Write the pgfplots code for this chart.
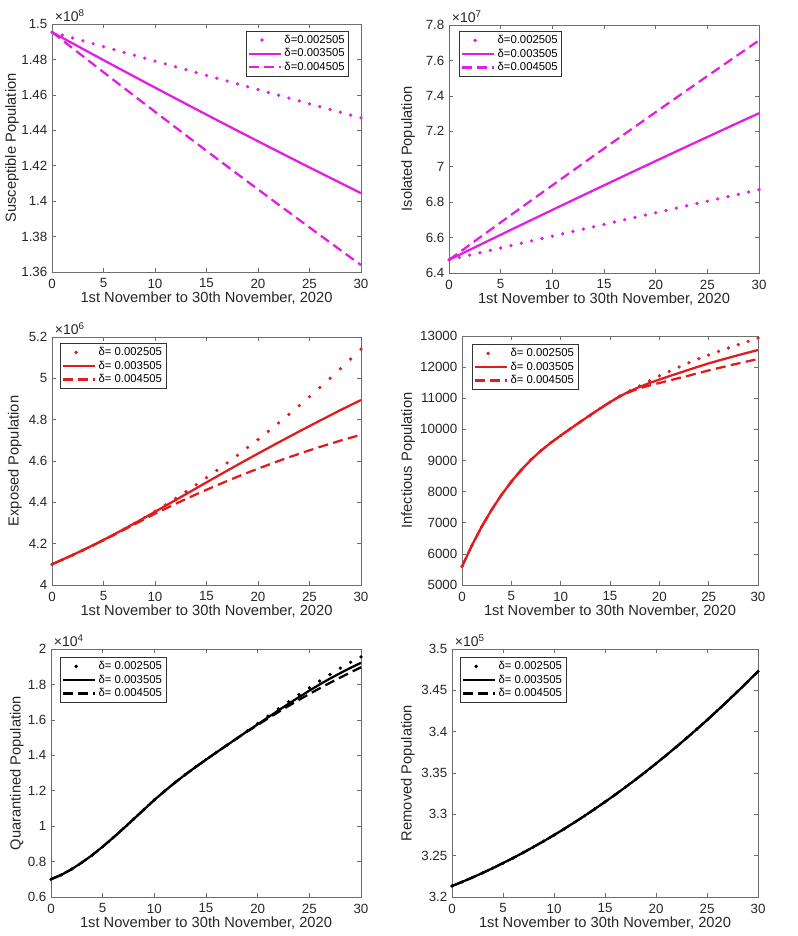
\documentclass[border=0pt]{standalone}
\usepackage{fontspec}
\setmainfont{Liberation Sans}
\usepackage{pgfplots}
\pgfplotsset{compat=1.18}
\definecolor{mag}{RGB}{226,30,226}
\definecolor{myred}{RGB}{224,28,30}
\definecolor{ax}{RGB}{110,110,110}
\pgfplotsset{
  base/.style={
    scale only axis, anchor=south west, clip=false,
    xmin=0, xmax=30, xtick={0,5,...,30},
    axis line style={ax, line width=0.5pt},
    every tick/.style={ax, line width=0.5pt},
    tick align=inside, major tick length=3pt,
    tick label style={font=\fontsize{10}{12}\selectfont, text=black!85},
    xticklabel style={yshift=-1.5pt},
    label style={font=\fontsize{11}{13}\selectfont, text=black!85},
    xlabel style={yshift=4pt},
    /pgf/number format/assume math mode=true,
    scaled ticks=false,
    /pgf/number format/1000 sep={},
    xlabel={1st November to 30th November, 2020},
    legend cell align=left,
    legend style={draw=black!80, line width=0.5pt, fill=white,
      font=\fontsize{8.5}{10}\selectfont, inner sep=1pt, row sep=-1.5pt},
    legend image code/.code={\draw[#1] (0pt,0pt) -- (24pt,0pt);},
  },
  yl/.style={ylabel style={at={(axis description cs:#1,0.5)}, anchor=center}},
  dotp/.style={only marks, mark=*, mark size=1.05pt, #1,
    legend image code/.code={\fill[##1] (10pt,0pt) circle (1.05pt);}},
  solp/.style={#1, line width=1.7pt},
  dasp/.style={#1, line width=1.7pt, dash pattern=on 7.5pt off 4pt},
}
\newcommand{\scl}[1]{\node[anchor=south west, font=\fontsize{10.5}{12}\selectfont, text=black!85, inner sep=0pt, xshift=2pt, yshift=1.5pt] at (rel axis cs:0,1) {×10\textsuperscript{#1}};}
\begin{document}
\begin{tikzpicture}
\path[use as bounding box] (0,0) rectangle (597.75pt,702pt);

% ---------- Panel 1: Susceptible ----------
\begin{axis}[base, at={(39pt,498pt)}, width=231.75pt, height=186pt,
  ymin=1.36, ymax=1.5, ytick={1.36,1.38,1.40,1.42,1.44,1.46,1.48,1.50},
  ylabel={Susceptible Population}, yl=-0.129,
  legend style={at={(1,1)}, anchor=north east, xshift=-9pt, yshift=-5pt}]
\addplot[dotp=mag] coordinates {(0,1.4954)(1,1.49376)(2,1.49212)(3,1.49049)(4,1.48885)(5,1.48722)(6,1.48559)(7,1.48396)(8,1.48234)(9,1.48071)(10,1.47909)(11,1.47747)(12,1.47585)(13,1.47423)(14,1.47262)(15,1.471)(16,1.46939)(17,1.46778)(18,1.46617)(19,1.46457)(20,1.46296)(21,1.46136)(22,1.45976)(23,1.45816)(24,1.45656)(25,1.45496)(26,1.45337)(27,1.45178)(28,1.45019)(29,1.4486)(30,1.44701)};
\addlegendentry{δ=0.002505}
\addplot[solp=mag] coordinates {(0,1.4954)(2,1.48906)(4,1.48276)(6,1.4765)(8,1.47028)(10,1.4641)(12,1.45796)(14,1.45186)(16,1.4458)(18,1.43978)(20,1.4338)(22,1.42786)(24,1.42196)(26,1.4161)(28,1.41028)(30,1.4045)};
\addlegendentry{δ=0.003505}
\addplot[dasp=mag] coordinates {(0,1.4954)(2,1.48632)(4,1.47729)(6,1.4683)(8,1.45936)(10,1.45046)(12,1.44161)(14,1.4328)(16,1.42403)(18,1.41531)(20,1.40664)(22,1.39801)(24,1.38943)(26,1.38089)(28,1.37239)(30,1.36394)};
\addlegendentry{δ=0.004505}
\scl{8}
\end{axis}

% ---------- Panel 2: Isolated ----------
\begin{axis}[base, at={(336.75pt,497.25pt)}, width=232.5pt, height=186pt,
  ymin=6.4, ymax=7.8, ytick={6.4,6.6,6.8,7.0,7.2,7.4,7.6,7.8},
  ylabel={Isolated Population}, yl=-0.132,
  legend style={at={(0,1)}, anchor=north west, xshift=7.5pt, yshift=-4.5pt}]
\addplot[dotp=mag] coordinates {(0,6.474)(1,6.48749)(2,6.50096)(3,6.51441)(4,6.52784)(5,6.54125)(6,6.55464)(7,6.56801)(8,6.58136)(9,6.59469)(10,6.608)(11,6.62129)(12,6.63456)(13,6.64781)(14,6.66104)(15,6.67425)(16,6.68744)(17,6.70061)(18,6.71376)(19,6.72689)(20,6.74)(21,6.75309)(22,6.76616)(23,6.77921)(24,6.79224)(25,6.80525)(26,6.81824)(27,6.83121)(28,6.84416)(29,6.85709)(30,6.87)};
\addlegendentry{δ=0.002505}
\addplot[solp=mag] coordinates {(0,6.474)(2,6.5309)(4,6.5875)(6,6.6439)(8,6.7001)(10,6.756)(12,6.8117)(14,6.8671)(16,6.9223)(18,6.9773)(20,7.032)(22,7.0865)(24,7.1407)(26,7.1947)(28,7.2485)(30,7.302)};
\addlegendentry{δ=0.003505}
\addplot[dasp=mag] coordinates {(0,6.474)(2,6.5588)(4,6.6434)(6,6.7276)(8,6.8114)(10,6.895)(12,6.9782)(14,7.0612)(16,7.1438)(18,7.226)(20,7.308)(22,7.3896)(24,7.471)(26,7.552)(28,7.6326)(30,7.713)};
\addlegendentry{δ=0.004505}
\scl{7}
\end{axis}

% ---------- Panel 3: Exposed ----------
\begin{axis}[base, at={(39pt,263.25pt)}, width=231.75pt, height=186pt,
  ymin=4, ymax=5.2, ytick={4,4.2,4.4,4.6,4.8,5,5.2},
  ylabel={Exposed Population}, yl=-0.12,
  legend style={at={(0,1)}, anchor=north west, xshift=6pt, yshift=-4.5pt}]
\addplot[dotp=myred] coordinates {(0,4.1)(1,4.1217)(2,4.1442)(3,4.1677)(4,4.192)(5,4.2173)(6,4.2434)(7,4.2705)(8,4.2984)(9,4.3273)(10,4.357)(11,4.3877)(12,4.4192)(13,4.4517)(14,4.485)(15,4.5193)(16,4.5544)(17,4.5905)(18,4.6274)(19,4.6653)(20,4.704)(21,4.7437)(22,4.7842)(23,4.8257)(24,4.868)(25,4.9113)(26,4.9554)(27,5.0005)(28,5.0464)(29,5.0933)(30,5.141)};
\addlegendentry{δ= 0.002505}
\addplot[solp=myred] coordinates {(0,4.1)(2,4.145)(4,4.193)(6,4.244)(8,4.298)(10,4.354)(12,4.411)(14,4.468)(16,4.525)(18,4.581)(20,4.636)(22,4.69)(24,4.743)(26,4.795)(28,4.846)(30,4.895)};
\addlegendentry{δ= 0.003505}
\addplot[dasp=myred] coordinates {(0,4.1)(2,4.145)(4,4.192)(6,4.242)(8,4.293)(10,4.345)(12,4.3929)(14,4.4387)(16,4.4823)(18,4.5237)(20,4.563)(22,4.6001)(24,4.6351)(26,4.6679)(28,4.6985)(30,4.727)};
\addlegendentry{δ= 0.004505}
\scl{6}
\end{axis}

% ---------- Panel 4: Infectious ----------
\begin{axis}[base, at={(346.5pt,263.25pt)}, width=222pt, height=186.75pt,
  ymin=5000, ymax=13000, ytick={5000,6000,7000,8000,9000,10000,11000,12000,13000},
  ylabel={Infectious Population}, yl=-0.182,
  legend style={at={(0,1)}, anchor=north west, xshift=7.5pt, yshift=-6pt}]
\addplot[dotp=myred] coordinates {(0,5590)(1,6270)(2,6875)(3,7415)(4,7895)(5,8320)(6,8695)(7,9025)(8,9315)(9,9570)(10,9800)(11,10025)(12,10245)(13,10460)(14,10670)(15,10875)(16,11068)(17,11235)(18,11395)(19,11560)(20,11720)(21,11865)(22,12005)(23,12140)(24,12270)(25,12390)(26,12505)(27,12615)(28,12725)(29,12830)(30,12935)};
\addlegendentry{δ= 0.002505}
\addplot[solp=myred] coordinates {(0,5590)(1,6270)(2,6875)(3,7415)(4,7895)(5,8320)(6,8695)(7,9025)(8,9315)(9,9570)(10,9800)(11,10025)(12,10245)(13,10460)(14,10670)(15,10875)(16,11065)(17,11225)(18,11365)(19,11490)(20,11600)(21,11708)(22,11813)(23,11917)(24,12019)(25,12120)(26,12210)(27,12298)(28,12384)(29,12468)(30,12550)};
\addlegendentry{δ= 0.003505}
\addplot[dasp=myred] coordinates {(0,5590)(1,6270)(2,6875)(3,7415)(4,7895)(5,8320)(6,8695)(7,9025)(8,9315)(9,9570)(10,9800)(11,10025)(12,10245)(13,10460)(14,10670)(15,10875)(16,11060)(17,11205)(18,11320)(19,11410)(20,11490)(21,11570)(22,11650)(23,11728)(24,11812)(25,11895)(26,11970)(27,12045)(28,12119)(29,12190)(30,12260)};
\addlegendentry{δ= 0.004505}
\end{axis}

% ---------- Panel 5: Quarantined ----------
\begin{axis}[base, at={(38.25pt,29.25pt)}, width=232.5pt, height=186pt,
  ymin=0.6, ymax=2, ytick={0.6,0.8,1,1.2,1.4,1.6,1.8,2},
  ylabel={Quarantined Population}, yl=-0.11,
  legend style={at={(0,1)}, anchor=north west, xshift=6.75pt, yshift=-6pt}]
\addplot[dotp=black] coordinates {(0,0.7)(1,0.725)(2,0.757)(3,0.795)(4,0.837)(5,0.884)(6,0.934)(7,0.986)(8,1.04)(9,1.094)(10,1.148)(11,1.198)(12,1.246)(13,1.291)(14,1.334)(15,1.375)(16,1.416)(17,1.456)(18,1.496)(19,1.538)(20,1.58)(21,1.621)(22,1.662)(23,1.702)(24,1.742)(25,1.781)(26,1.819)(27,1.856)(28,1.892)(29,1.925)(30,1.955)};
\addlegendentry{δ= 0.002505}
\addplot[solp=black] coordinates {(0,0.7)(1,0.725)(2,0.757)(3,0.795)(4,0.837)(5,0.884)(6,0.934)(7,0.986)(8,1.04)(9,1.094)(10,1.148)(11,1.198)(12,1.246)(13,1.291)(14,1.334)(15,1.375)(16,1.416)(17,1.456)(18,1.496)(19,1.536)(20,1.575)(21,1.614)(22,1.653)(23,1.691)(24,1.728)(25,1.765)(26,1.8)(27,1.833)(28,1.864)(29,1.894)(30,1.922)};
\addlegendentry{δ= 0.003505}
\addplot[dasp=black] coordinates {(0,0.7)(1,0.725)(2,0.757)(3,0.795)(4,0.837)(5,0.884)(6,0.934)(7,0.986)(8,1.04)(9,1.094)(10,1.148)(11,1.198)(12,1.246)(13,1.291)(14,1.334)(15,1.375)(16,1.416)(17,1.456)(18,1.496)(19,1.534)(20,1.571)(21,1.608)(22,1.644)(23,1.679)(24,1.713)(25,1.746)(26,1.778)(27,1.809)(28,1.839)(29,1.868)(30,1.897)};
\addlegendentry{δ= 0.004505}
\scl{4}
\end{axis}

% ---------- Panel 6: Removed ----------
\begin{axis}[base, at={(339pt,29.25pt)}, width=229.5pt, height=186pt,
  ymin=3.2, ymax=3.5, ytick={3.2,3.25,3.3,3.35,3.4,3.45,3.5},
  ylabel={Removed Population}, yl=-0.144,
  legend style={at={(0,1)}, anchor=north west, xshift=6pt, yshift=-6pt}]
\addplot[dotp=black] coordinates {(0,3.2133)(1,3.2183)(2,3.2236)(3,3.2291)(4,3.2349)(5,3.241)(6,3.2472)(7,3.2538)(8,3.2606)(9,3.2676)(10,3.2749)(11,3.2824)(12,3.2902)(13,3.2982)(14,3.3065)(15,3.315)(16,3.3238)(17,3.3328)(18,3.3421)(19,3.3516)(20,3.3614)(21,3.3714)(22,3.3817)(23,3.3922)(24,3.403)(25,3.414)(26,3.4253)(27,3.4368)(28,3.4486)(29,3.4606)(30,3.4729)};
\addlegendentry{δ= 0.002505}
\addplot[solp=black] coordinates {(0,3.2133)(1,3.2183)(2,3.2236)(3,3.2291)(4,3.2349)(5,3.241)(6,3.2472)(7,3.2538)(8,3.2606)(9,3.2676)(10,3.2749)(11,3.2824)(12,3.2902)(13,3.2982)(14,3.3065)(15,3.315)(16,3.3238)(17,3.3328)(18,3.3421)(19,3.3516)(20,3.3614)(21,3.3714)(22,3.3817)(23,3.3922)(24,3.403)(25,3.414)(26,3.4253)(27,3.4368)(28,3.4486)(29,3.4606)(30,3.4729)};
\addlegendentry{δ= 0.003505}
\addplot[dasp=black] coordinates {(0,3.2133)(1,3.2183)(2,3.2236)(3,3.2291)(4,3.2349)(5,3.241)(6,3.2472)(7,3.2538)(8,3.2606)(9,3.2676)(10,3.2749)(11,3.2824)(12,3.2902)(13,3.2982)(14,3.3065)(15,3.315)(16,3.3238)(17,3.3328)(18,3.3421)(19,3.3516)(20,3.3614)(21,3.3714)(22,3.3817)(23,3.3922)(24,3.403)(25,3.414)(26,3.4253)(27,3.4368)(28,3.4486)(29,3.4606)(30,3.4729)};
\addlegendentry{δ= 0.004505}
\scl{5}
\end{axis}
\end{tikzpicture}
\end{document}
